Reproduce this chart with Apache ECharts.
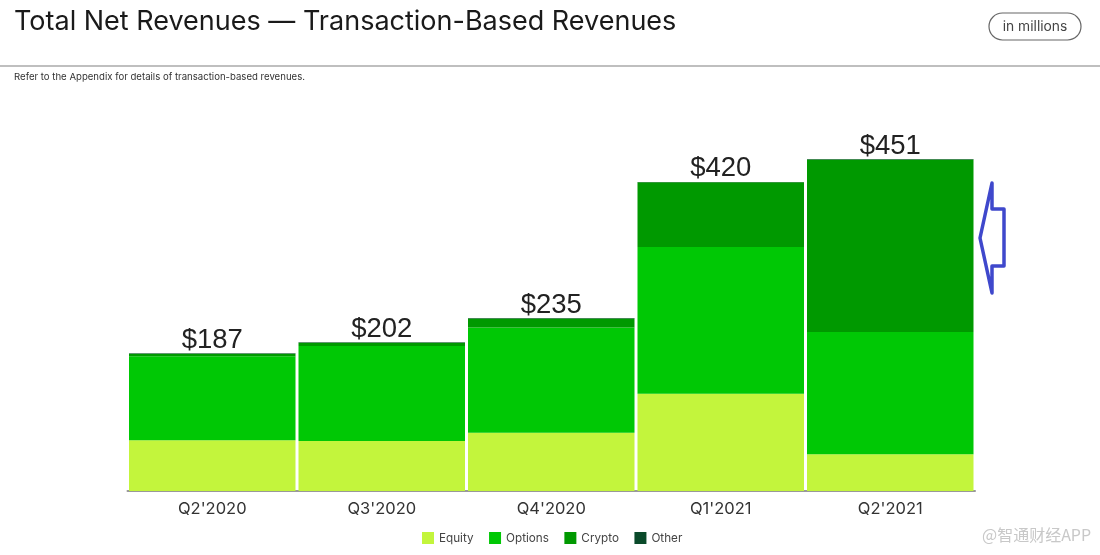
<!DOCTYPE html>
<html>
<head>
<meta charset="utf-8">
<title>Total Net Revenues</title>
<script src="https://cdn.jsdelivr.net/npm/echarts@6/dist/echarts.min.js"></script>
<style>
  html, body { margin: 0; padding: 0; background: #fff; }
  #chart { width: 1100px; height: 555px; }
</style>
</head>
<body>
<div id="chart"></div>
<script>
const quarters = ["Q2'2020", "Q3'2020", "Q4'2020", "Q1'2021", "Q2'2021"];
const equity = [69, 68, 79, 132, 50];
const options = [114, 129, 143, 199.5, 166];
const crypto = [3.5, 4.5, 12.5, 88, 234.5];
const other = [0.5, 0.5, 0.5, 0.5, 0.5];
const totals = [187, 202, 235, 420, 451];

const FONT = 'Inter, "Liberation Sans", sans-serif';
const chart = echarts.init(document.getElementById('chart'));

function stackSeries(name, data, color) {
  return {
    name: name,
    type: 'bar',
    stack: 'revenue',
    barWidth: 166.5,
    data: data,
    itemStyle: { color: color }
  };
}

const lastSeries = stackSeries('Other', other, '#0a4a2a');
lastSeries.label = {
  show: true,
  position: 'top',
  distance: -1,
  formatter: function (p) { return '$' + totals[p.dataIndex]; },
  fontFamily: '"Liberation Sans", sans-serif',
  fontSize: 27.5,
  color: '#222'
};

chart.setOption({
  animation: false,
  backgroundColor: '#fff',
  title: [
    {
      text: 'Total Net Revenues — Transaction-Based Revenues',
      left: 9, top: 3,
      textStyle: { fontFamily: FONT, fontSize: 27, fontWeight: 400, color: '#1a1a1a' }
    },
    {
      text: 'Refer to the Appendix for details of transaction-based revenues.',
      left: 9, top: 67,
      textStyle: { fontFamily: FONT, fontSize: 9.6, fontWeight: 400, color: '#333' }
    }
  ],
  legend: {
    bottom: 6,
    left: 417,
    icon: 'rect',
    itemWidth: 12,
    itemHeight: 12,
    itemGap: 15.5,
    textStyle: { fontFamily: FONT, fontSize: 11.7, color: '#444' },
    data: ['Equity', 'Options', 'Crypto', 'Other']
  },
  grid: { left: 127.5, right: 125, top: 123, height: 368 },
  xAxis: {
    type: 'category',
    data: quarters,
    axisTick: { show: false },
    axisLine: { lineStyle: { color: '#999', width: 2 } },
    axisLabel: { margin: 10, fontFamily: FONT, fontSize: 16.5, color: '#333' }
  },
  yAxis: { type: 'value', min: 0, max: 500, show: false },
  series: [
    stackSeries('Equity', equity, '#c3f53c'),
    stackSeries('Options', options, '#00c805'),
    stackSeries('Crypto', crypto, '#009900'),
    lastSeries
  ],
  graphic: [
    { type: 'line', shape: { x1: 0, y1: 66, x2: 1100, y2: 66 }, style: { stroke: '#aaa', lineWidth: 1.5 } },
    {
      type: 'rect',
      shape: { x: 989, y: 13, width: 92, height: 27, r: 13.5 },
      style: { fill: '#fff', stroke: '#666', lineWidth: 1.2 }
    },
    {
      type: 'text', x: 1035, y: 26.5,
      style: { text: 'in millions', fontFamily: FONT, fontSize: 13.8, fill: '#444', align: 'center', verticalAlign: 'middle' }
    },
    {
      type: 'polygon',
      shape: { points: [[992, 183], [980, 238], [992, 293], [992, 266], [1004, 266], [1004, 209], [992, 209]] },
      style: { fill: '#fff', stroke: '#3f48cc', lineWidth: 3.5, lineJoin: 'round' }
    },
    {
      type: 'text', x: 982, y: 535,
      style: { text: '@智通财经APP', fontFamily: '"Noto Sans CJK SC", sans-serif', fontSize: 16, fill: '#c8c8c8', verticalAlign: 'middle' }
    }
  ]
});
</script>
</body>
</html>
